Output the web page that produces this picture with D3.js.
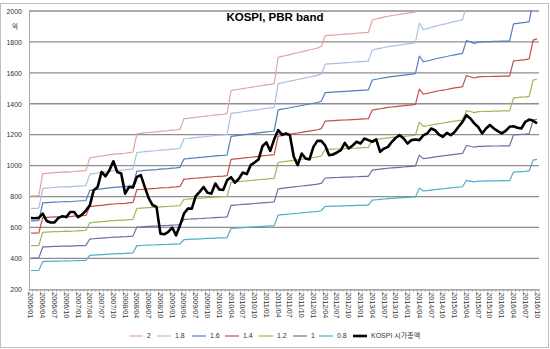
<!DOCTYPE html>
<html>
<head>
<meta charset="utf-8">
<script src="https://cdn.jsdelivr.net/npm/d3@7"></script>
<style>
  html, body { margin: 0; padding: 0; background: #fff; }
  svg { display: block; }
</style>
</head>
<body>
<svg id="chart" width="550" height="349"></svg>
<script>
// Monthly categories 2006/01 .. 2016/10
const years = [2006, 2007, 2008, 2009, 2010, 2011, 2012, 2013, 2014, 2015, 2016];
const months = ["01", "02", "03", "04", "05", "06", "07", "08", "09", "10", "11", "12"];
const categories = [];
years.forEach(y => months.forEach(m => {
  if (!(y === 2016 && +m > 10)) categories.push(y + "/" + m);
}));

// Book value of the KOSPI (PBR 1.0), same unit as the axis
const bookValue = [
  402, 402, 403,
  474, 475, 476, 477, 478, 479, 480, 479, 481, 482, 483, 484,
  525, 527, 529, 531, 533, 535, 537, 538, 539, 540, 542, 544,
  603, 604, 606, 607, 608, 609, 611, 612, 613, 615, 616, 618,
  652, 653, 655, 656, 658, 659, 661, 662, 664, 665, 666, 668,
  743, 745, 747, 749, 751, 753, 755, 757, 759, 761, 763, 765,
  850, 853, 856, 859, 862, 865, 868, 871, 874, 877, 880, 885,
  920, 921, 922, 923, 924, 925, 926, 927, 928, 929, 930, 931,
  971, 974, 977, 980, 983, 985, 987, 989, 991, 993, 995, 997,
  1068, 1045, 1048, 1052, 1056, 1060, 1063, 1066, 1070, 1073, 1076, 1079,
  1130, 1125, 1119, 1124, 1125, 1126, 1126, 1127, 1127, 1128, 1128, 1128,
  1198, 1200, 1202, 1204, 1207,
  1294, 1300
];

// PBR multiples drawn as bands
const bandMultiples = [2, 1.8, 1.6, 1.4, 1.2, 1, 0.8];
const bandNames = ["2", "1.8", "1.6", "1.4", "1.2", "1", "0.8"];
const bandColors = ["#e3a3a1", "#a9c0e2", "#4f7fbd", "#c4504c", "#9bbb59", "#8066a1", "#4eadc8"];

// KOSPI market capitalisation
const kospiName = "KOSPI 시가총액";
const kospi = [
  661, 660, 662, 690, 642, 632, 633, 662, 672, 667, 700, 700,
  667, 683, 709, 743, 841, 862, 959, 931, 970, 1028, 959, 949,
  819, 862, 858, 927, 938, 862, 790, 745, 733, 560, 556, 571,
  599, 549, 614, 690, 722, 722, 802, 830, 862, 824, 819, 884,
  845, 842, 905, 925, 890, 915, 955, 945, 1003, 1020, 1039, 1125,
  1150, 1095, 1170, 1229, 1200, 1208, 1197, 1057, 1003, 1078, 1046, 1040,
  1121, 1160, 1160, 1130, 1067, 1072, 1085, 1100, 1147, 1111, 1130, 1154,
  1143, 1175, 1165, 1154, 1169, 1089, 1110, 1121, 1154, 1180, 1197, 1175,
  1143, 1165, 1169, 1165, 1195, 1208, 1240, 1229, 1200, 1186, 1212, 1197,
  1218, 1251, 1283, 1326, 1305, 1273, 1250, 1208, 1240, 1262, 1240, 1223,
  1208, 1225, 1251, 1255, 1245, 1240, 1283, 1298, 1290, 1273
];

const yTicks = [200, 400, 600, 800, 1000, 1200, 1400, 1600, 1800, 2000];
const chartTitle = "KOSPI, PBR band";
const yUnit = "억";

// Layout
const plot = { left: 29, right: 539, top: 11, bottom: 289.3 };

const svg = d3.select("#chart");
const font = "'Liberation Sans', Arial, sans-serif";

const x = d3.scaleBand().domain(categories).range([plot.left, plot.right]).padding(0);
const cx = d => x(d) + x.bandwidth() / 2;
const y = d3.scaleLinear().domain([200, 2000]).range([plot.bottom, plot.top]);

// Chart frame
svg.append("rect")
  .attr("x", 0.5).attr("y", 3.5).attr("width", 548).attr("height", 344)
  .attr("fill", "#fff").attr("stroke", "#bfbfbf").attr("stroke-width", 1);

// Gridlines
svg.append("g")
  .selectAll("line").data(yTicks.filter(t => t > 200)).join("line")
  .attr("x1", plot.left).attr("x2", plot.right)
  .attr("y1", d => y(d)).attr("y2", d => y(d))
  .attr("stroke", "#8e8e8e").attr("stroke-width", 1.3);

// Y axis
const yAxis = d3.axisLeft(y).tickValues(yTicks).tickFormat(d3.format("d")).tickSize(0).tickPadding(7);
const gy = svg.append("g").attr("transform", `translate(${plot.left},0)`).call(yAxis);
gy.select(".domain").attr("stroke", "#a6a6a6").attr("stroke-width", 1);
gy.selectAll("text").attr("font-family", font).attr("font-size", 7).attr("fill", "#333");

svg.append("text").attr("x", 15).attr("y", 29).attr("text-anchor", "middle")
  .attr("font-family", "'Noto Sans CJK KR', sans-serif").attr("font-size", 6.5).attr("fill", "#333")
  .text(yUnit);

// X axis with monthly ticks and quarterly labels
const xAxis = d3.axisBottom(x)
  .tickValues(categories.filter((c, i) => i % 3 === 0))
  .tickSize(0).tickPadding(0);
const gx = svg.append("g").attr("transform", `translate(0,${plot.bottom})`).call(xAxis);
gx.select(".domain").attr("stroke", "#8e8e8e").attr("stroke-width", 1.3);
gx.selectAll(".tick text")
  .attr("font-family", font).attr("font-size", 7.2).attr("fill", "#333")
  .attr("text-anchor", "start").attr("dy", "0.35em")
  .attr("transform", "translate(0,3) rotate(90)")
  .attr("x", 0).attr("y", 0);
svg.append("g").selectAll("line").data(categories.concat(["end"])).join("line")
  .attr("x1", (d, i) => plot.left + i * x.bandwidth())
  .attr("x2", (d, i) => plot.left + i * x.bandwidth())
  .attr("y1", plot.bottom).attr("y2", plot.bottom + 2.5)
  .attr("stroke", "#9a9a9a").attr("stroke-width", 0.8);

// Clip lines to the plot area
svg.append("clipPath").attr("id", "plotclip").append("rect")
  .attr("x", plot.left).attr("y", plot.top - 1)
  .attr("width", plot.right - plot.left).attr("height", plot.bottom - plot.top + 1);

const line = d3.line().x((d, i) => cx(categories[i])).y(d => y(d));
const lines = svg.append("g").attr("clip-path", "url(#plotclip)");

// Each band is the book value scaled by its PBR multiple
bandMultiples.forEach((m, k) => {
  lines.append("path")
    .datum(bookValue.map(v => v * m))
    .attr("d", line)
    .attr("fill", "none")
    .attr("stroke", bandColors[k])
    .attr("stroke-width", 1.2)
    .attr("stroke-linejoin", "round");
});

lines.append("path")
  .datum(kospi)
  .attr("d", line)
  .attr("fill", "none")
  .attr("stroke", "#000")
  .attr("stroke-width", 2.6)
  .attr("stroke-linejoin", "round");

// Title
svg.append("text").attr("x", 275).attr("y", 21).attr("text-anchor", "middle")
  .attr("font-family", font).attr("font-weight", "bold").attr("font-size", 11.5)
  .attr("fill", "#000").text(chartTitle);

// Legend
const legendItems = bandNames.map((n, k) => ({ name: n, color: bandColors[k], w: 1.2 }))
  .concat([{ name: kospiName, color: "#000", w: 2.6 }]);
const legendX = [129, 157, 192, 225, 259, 293, 319, 353];
const lg = svg.append("g").attr("transform", "translate(0,336)");
legendItems.forEach((d, k) => {
  lg.append("line").attr("x1", legendX[k]).attr("x2", legendX[k] + 14)
    .attr("y1", 0).attr("y2", 0).attr("stroke", d.color).attr("stroke-width", d.w);
  lg.append("text").attr("x", legendX[k] + 18).attr("y", 0).attr("dy", "0.35em")
    .attr("font-family", k === legendItems.length - 1 ? "'Liberation Sans', 'Noto Sans CJK KR', sans-serif" : font)
    .attr("font-size", 7).attr("fill", "#333").text(d.name);
});
</script>
</body>
</html>
